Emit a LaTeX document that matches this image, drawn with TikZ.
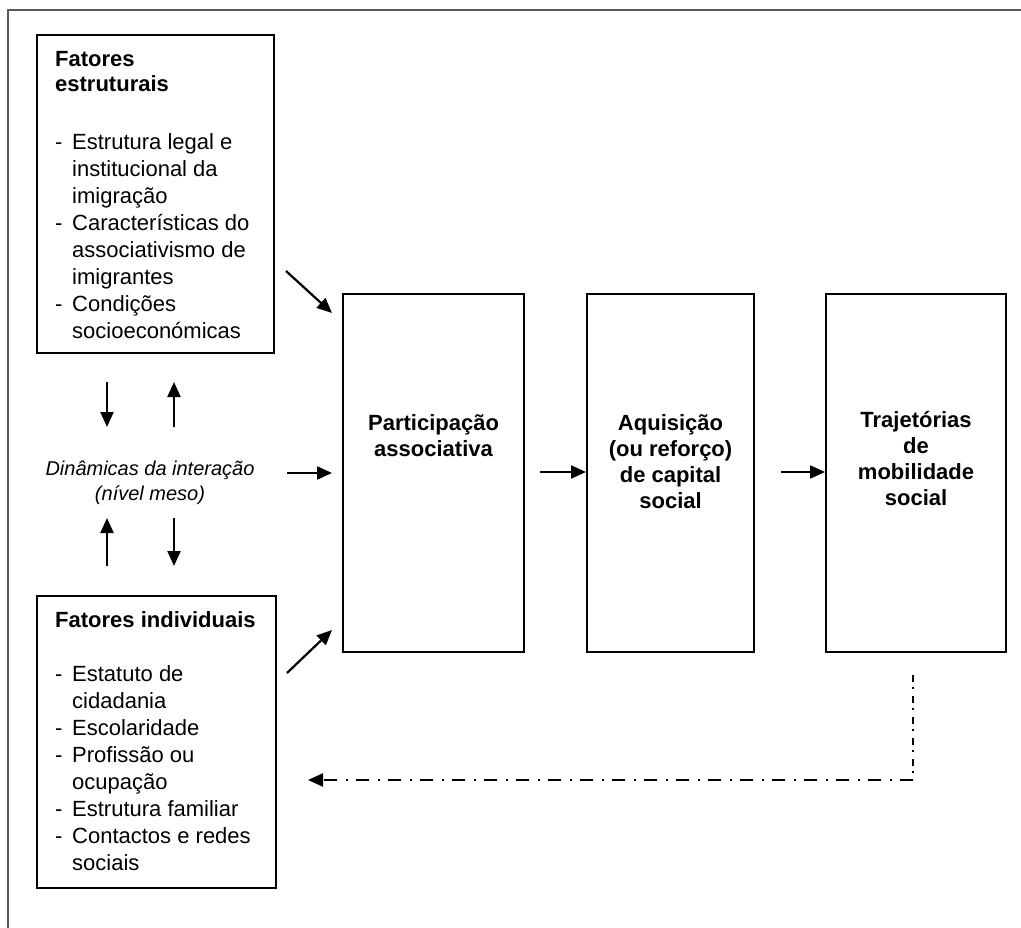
\documentclass[tikz,border=0pt]{standalone}
\usepackage{fontspec}
\setmainfont{Liberation Sans}
\usetikzlibrary{arrows.meta}
\newcommand\itm[1]{\makebox[17pt][l]{-}#1}
\newcommand\cnt[1]{\hspace*{17pt}#1}
\begin{document}
\begin{tikzpicture}[x=1pt,y=-1pt,
  box/.style={draw,line width=2.1pt,inner sep=0pt,anchor=north west},
  arr/.style={line width=2.2pt,-{Triangle[length=15pt,width=13pt]}},
  txt/.style={inner sep=0pt,anchor=base west},
  ctxt/.style={inner sep=0pt,anchor=base},
  ddv/.style={line width=2.2pt,dash pattern=on 7pt off 5pt on 2pt off 7pt},
  ddh/.style={line width=2.2pt,dash pattern=on 13pt off 8pt on 2pt off 9pt},
  frame/.style={draw=black!65,line width=1.6pt}]
\useasboundingbox (0,0) rectangle (1021,928);
% outer frame (top and left only)
\coordinate (ftr) at (1021,10);
\coordinate (ftl) at (8,10);
\coordinate (fbl) at (8,928);
\draw[frame] (ftr) -- (ftl) -- (fbl);
% boxes
\node[box,minimum width=237pt,minimum height=318pt] (fe) at (36,34) {};
\node[box,minimum width=239pt,minimum height=292pt] (fi) at (36,595) {};
\node[box,minimum width=181pt,minimum height=358pt] (pa) at (342,293) {};
\node[box,minimum width=167pt,minimum height=358pt] (aq) at (586,293) {};
\node[box,minimum width=180pt,minimum height=358pt] (tr) at (825,293) {};
% texts
\node[txt] (fet) at (55,67) {\parbox[t]{215pt}{\fontsize{22}{27}\selectfont
  \textbf{Fatores}\\[-2pt]
  \textbf{estruturais}\\[31pt]
  \itm{Estrutura legal e}\\
  \cnt{institucional da}\\
  \cnt{imigração}\\
  \itm{Características do}\\
  \cnt{associativismo de}\\
  \cnt{imigrantes}\\
  \itm{Condições}\\
  \cnt{socioeconómicas}}};
\node[txt] (fit) at (55,627) {\parbox[t]{215pt}{\fontsize{22}{27}\selectfont
  \textbf{Fatores individuais}\\[27pt]
  \itm{Estatuto de}\\
  \cnt{cidadania}\\
  \itm{Escolaridade}\\
  \itm{Profissão ou}\\
  \cnt{ocupação}\\
  \itm{Estrutura familiar}\\
  \itm{Contactos e redes}\\
  \cnt{sociais}}};
\node[ctxt] (pat) at (pa.north |- 0,430) {\parbox[t]{170pt}{\centering\fontsize{22}{26}\selectfont\bfseries
  Participação\\ associativa}};
\node[ctxt] (aqt) at (aq.north |- 0,430) {\parbox[t]{160pt}{\centering\fontsize{22}{26}\selectfont\bfseries
  Aquisição\\ (ou reforço)\\ de capital\\ social}};
\node[ctxt] (trt) at (tr.north |- 0,427) {\parbox[t]{170pt}{\centering\fontsize{22}{26}\selectfont\bfseries
  Trajetórias\\ de\\ mobilidade\\ social}};
\node[ctxt] (din) at (150,475) {\parbox[t]{250pt}{\centering\fontsize{20}{25}\selectfont\itshape
  Dinâmicas da interação\\ (nível meso)}};
% vertical arrows
\coordinate (v1a) at (107,382); \coordinate (v1b) at (107,427);
\coordinate (v2a) at (174,427); \coordinate (v2b) at (174,382);
\coordinate (v3a) at (107,566); \coordinate (v3b) at (107,518);
\coordinate (v4a) at (174,518); \coordinate (v4b) at (174,566);
\draw[arr] (v1a) -- (v1b);
\draw[arr] (v2a) -- (v2b);
\draw[arr] (v3a) -- (v3b);
\draw[arr] (v4a) -- (v4b);
% arrows into participation
\coordinate (d1a) at (286,271); \coordinate (d1b) at (332,313);
\coordinate (d2a) at (287,673); \coordinate (d2b) at (332,630);
\coordinate (h1a) at (287,473); \coordinate (h1b) at (332,473);
\draw[arr] (d1a) -- (d1b);
\draw[arr] (d2a) -- (d2b);
\draw[arr] (h1a) -- (h1b);
% chain arrows
\coordinate (h2a) at (540,472);
\coordinate (h3a) at (781,472);
\draw[arr] (h2a) -- (h2a -| aq.west);
\draw[arr] (h3a) -- (h3a -| tr.west);
% feedback dash-dot
\coordinate (fbs) at (913,675);
\coordinate (fbc) at (913,780);
\coordinate (fbe) at (308,780);
\draw[ddv] (fbs) -- (fbc);
\draw[ddh,-{Triangle[length=15pt,width=13pt]}] (fbc) -- (fbe);
\end{tikzpicture}
\end{document}
